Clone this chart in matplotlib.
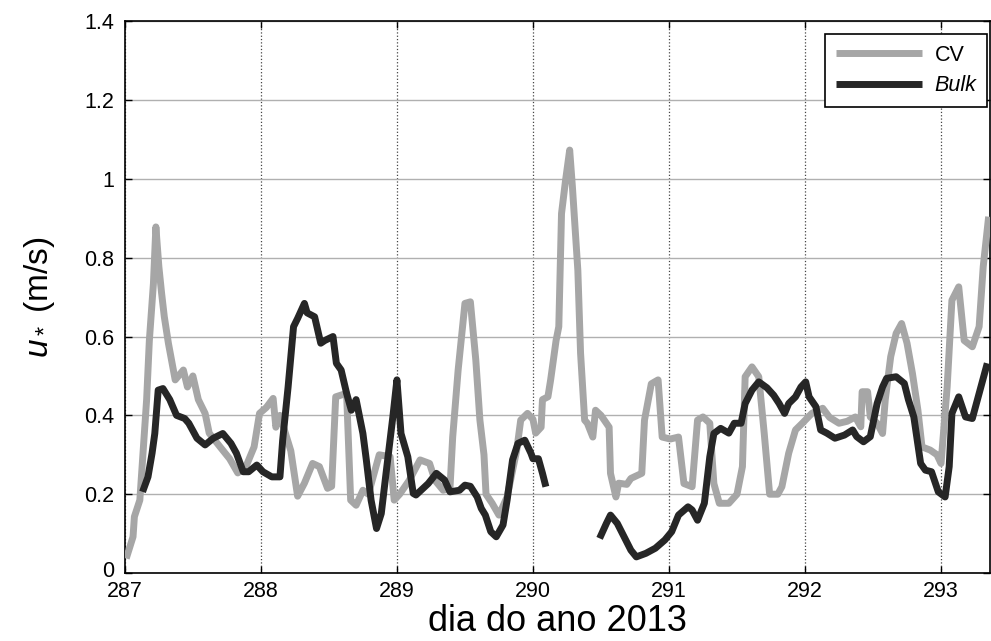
''' u* CV vs Bulk '''
from matplotlib import pyplot as plt
from matplotlib.ticker import FormatStrFormatter
from matplotlib.transforms import ScaledTranslation
import numpy as np

# CV series (day of year, u* in m/s)
cv_day = [287.01, 287.06, 287.07, 287.11, 287.16, 287.18, 287.21, 287.228, 287.25, 287.27,
          287.29, 287.32, 287.37, 287.43, 287.46, 287.50, 287.54, 287.59, 287.62, 287.70,
          287.77, 287.83, 287.89, 287.95, 287.99, 288.04, 288.09, 288.11, 288.14, 288.22,
          288.27, 288.32, 288.38, 288.43, 288.49, 288.52, 288.55, 288.63, 288.66, 288.70,
          288.75, 288.79, 288.87, 288.95, 288.98, 289.02, 289.09, 289.17, 289.24, 289.28,
          289.34, 289.39, 289.41, 289.45, 289.50, 289.54, 289.58, 289.61, 289.64, 289.655,
          289.70, 289.75, 289.81, 289.88, 289.91, 289.96, 290.00, 290.02, 290.06, 290.07,
          290.11, 290.13, 290.17, 290.19, 290.21, 290.24, 290.27, 290.29, 290.33, 290.35,
          290.38, 290.40, 290.44, 290.46, 290.50, 290.56, 290.57, 290.61, 290.63, 290.69,
          290.72, 290.80, 290.82, 290.87, 290.92, 290.95, 291.01, 291.07, 291.11, 291.17,
          291.21, 291.25, 291.30, 291.33, 291.37, 291.44, 291.50, 291.54, 291.56, 291.61,
          291.66, 291.70, 291.74, 291.80, 291.83, 291.88, 291.93, 291.98, 292.05, 292.13,
          292.18, 292.25, 292.31, 292.37, 292.41, 292.42, 292.46, 292.48, 292.53, 292.57,
          292.59, 292.63, 292.67, 292.71, 292.75, 292.79, 292.83, 292.86, 292.92, 292.97,
          293.00, 293.045, 293.08, 293.13, 293.17, 293.23, 293.28, 293.31, 293.35]
cv_val = [0.037, 0.092, 0.143, 0.185, 0.44, 0.59, 0.735, 0.878, 0.777, 0.71,
          0.65, 0.583, 0.49, 0.515, 0.472, 0.50, 0.44, 0.405, 0.355, 0.32,
          0.29, 0.254, 0.27, 0.32, 0.405, 0.42, 0.443, 0.37, 0.40, 0.31,
          0.195, 0.228, 0.278, 0.27, 0.215, 0.22, 0.447, 0.456, 0.185, 0.172,
          0.21, 0.20, 0.30, 0.295, 0.185, 0.20, 0.235, 0.287, 0.278, 0.235,
          0.21, 0.215, 0.345, 0.515, 0.684, 0.688, 0.54, 0.388, 0.30, 0.20,
          0.177, 0.147, 0.193, 0.31, 0.388, 0.405, 0.39, 0.355, 0.37, 0.44,
          0.447, 0.49, 0.59, 0.625, 0.912, 0.997, 1.073, 0.98, 0.768, 0.558,
          0.388, 0.38, 0.345, 0.413, 0.40, 0.37, 0.253, 0.193, 0.228, 0.225,
          0.24, 0.253, 0.388, 0.48, 0.49, 0.345, 0.34, 0.345, 0.227, 0.219,
          0.388, 0.396, 0.38, 0.227, 0.177, 0.177, 0.20, 0.27, 0.498, 0.523,
          0.498, 0.355, 0.20, 0.20, 0.219, 0.304, 0.363, 0.38, 0.405, 0.418,
          0.395, 0.38, 0.385, 0.396, 0.371, 0.46, 0.46, 0.396, 0.38, 0.354,
          0.44, 0.549, 0.608, 0.633, 0.583, 0.506, 0.413, 0.32, 0.312, 0.30,
          0.278, 0.472, 0.692, 0.726, 0.59, 0.574, 0.625, 0.777, 0.904]

# Bulk series (gap = nan)
bulk_day = [287.13, 287.17, 287.20, 287.22, 287.245, 287.28, 287.33, 287.38, 287.44, 287.47,
            287.53, 287.59, 287.65, 287.72, 287.78, 287.82, 287.87, 287.91, 287.97, 288.015,
            288.08, 288.14, 288.16, 288.20, 288.24, 288.27, 288.32, 288.34, 288.395, 288.44,
            288.47, 288.53, 288.555, 288.59, 288.63, 288.665, 288.70, 288.75, 288.775, 288.81,
            288.85, 288.885, 288.92, 288.97, 289.00, 289.03, 289.08, 289.12, 289.14, 289.23,
            289.29, 289.35, 289.39, 289.46, 289.50, 289.54, 289.59, 289.62, 289.65, 289.69,
            289.73, 289.78, 289.81, 289.85, 289.89, 289.94, 289.985, 290.00, 290.04, 290.07,
            290.095, 290.30, 290.49, 290.54, 290.57, 290.62, 290.67, 290.72, 290.76, 290.83,
            290.90, 290.97, 291.02, 291.07, 291.14, 291.17, 291.21, 291.26, 291.30, 291.33,
            291.38, 291.44, 291.48, 291.53, 291.56, 291.61, 291.66, 291.72, 291.77, 291.81,
            291.85, 291.88, 291.93, 291.97, 292.005, 292.03, 292.08, 292.115, 292.16, 292.22,
            292.29, 292.35, 292.38, 292.43, 292.48, 292.53, 292.57, 292.60, 292.67, 292.73,
            292.76, 292.80, 292.85, 292.885, 292.93, 292.98, 293.03, 293.06, 293.08, 293.13,
            293.18, 293.23, 293.28, 293.34]
bulk_val = [0.206, 0.244, 0.304, 0.354, 0.464, 0.468, 0.44, 0.40, 0.392, 0.38,
            0.342, 0.325, 0.342, 0.354, 0.329, 0.304, 0.257, 0.257, 0.274, 0.257,
            0.244, 0.244, 0.337, 0.472, 0.625, 0.646, 0.684, 0.66, 0.65, 0.583,
            0.59, 0.60, 0.532, 0.515, 0.456, 0.413, 0.44, 0.354, 0.287, 0.185,
            0.113, 0.151, 0.253, 0.396, 0.49, 0.354, 0.295, 0.202, 0.198, 0.227,
            0.253, 0.236, 0.206, 0.21, 0.223, 0.22, 0.193, 0.164, 0.147, 0.105,
            0.092, 0.122, 0.185, 0.287, 0.329, 0.337, 0.304, 0.29, 0.29, 0.253,
            0.219, np.nan, 0.088, 0.126, 0.147, 0.126, 0.092, 0.058, 0.041, 0.05,
            0.063, 0.084, 0.105, 0.147, 0.168, 0.16, 0.134, 0.177, 0.295, 0.354,
            0.367, 0.355, 0.38, 0.38, 0.43, 0.464, 0.485, 0.47, 0.451, 0.43,
            0.405, 0.43, 0.447, 0.472, 0.485, 0.447, 0.422, 0.363, 0.355, 0.342,
            0.35, 0.363, 0.346, 0.333, 0.346, 0.43, 0.472, 0.494, 0.498, 0.481,
            0.44, 0.396, 0.278, 0.261, 0.257, 0.206, 0.193, 0.27, 0.405, 0.447,
            0.396, 0.392, 0.456, 0.532]

x_ticks = [287, 288, 289, 290, 291, 292, 293]
y_ticks = [0, 0.2, 0.4, 0.6, 0.8, 1.0, 1.2, 1.4]

plt.rcParams['font.family'] = ['Liberation Sans', 'DejaVu Sans']
plt.rcParams['mathtext.fontset'] = 'custom'
plt.rcParams['mathtext.rm'] = 'Liberation Sans'
plt.rcParams['mathtext.it'] = 'Liberation Sans:italic'

fig = plt.figure(figsize=(9.91, 6.41), dpi=100)
ax = fig.add_axes([0.126, 0.106, 0.873, 0.861])

ax.plot(cv_day, cv_val, color='#a6a6a6', lw=5, label='CV',
        solid_joinstyle='round', solid_capstyle='butt', zorder=3)
ax.plot(bulk_day, bulk_val, color='#262626', lw=5, label='Bulk',
        solid_joinstyle='round', solid_capstyle='butt', zorder=4)

ax.set_xlim(287, 293.36)
ax.set_ylim(0, 1.4)
ax.set_xticks(x_ticks)
ax.set_yticks(y_ticks)
ax.yaxis.set_major_formatter(FormatStrFormatter('%g'))
ax.tick_params(direction='in', top=True, right=True, labelsize=15.5, length=5, width=1)
ax.tick_params(axis='x', pad=6)
ax.tick_params(axis='y', pad=8)

# lift the "0" label a little so it clears "287"
lbl0 = ax.yaxis.get_majorticklabels()[0]
lbl0.set_transform(lbl0.get_transform() + ScaledTranslation(0, 3 / 72, fig.dpi_scale_trans))

ax.xaxis.grid(True, linestyle=':', color='#444444', lw=0.9)
ax.yaxis.grid(True, linestyle='-', color='#b0b0b0', lw=1.0)
ax.set_axisbelow(True)
for s in ax.spines.values():
    s.set_linewidth(1.2)

ax.set_xlabel('dia do ano 2013', fontsize=26, labelpad=1)
ax.set_ylabel('$u_*$ (m/s)', fontsize=24, labelpad=19)

leg = ax.legend(loc='upper right', bbox_to_anchor=(0.997, 0.977), fontsize=15.5,
                handlelength=4.0, handletextpad=0.6, fancybox=False, framealpha=1,
                edgecolor='black', borderaxespad=0, borderpad=0.5, labelspacing=0.45)
leg.get_frame().set_linewidth(1.2)
leg.get_texts()[1].set_style('italic')

plt.savefig('out.png', dpi=100)
plt.close()
